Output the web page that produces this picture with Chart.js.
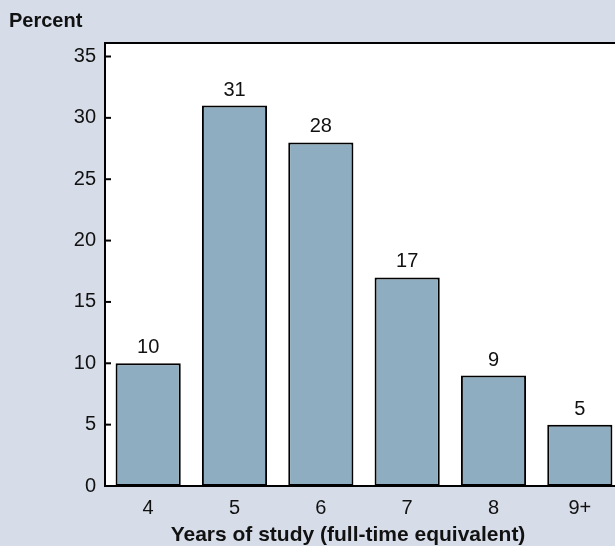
<!DOCTYPE html>
<html>
<head>
<meta charset="utf-8">
<script src="https://cdn.jsdelivr.net/npm/chart.js@4/dist/chart.umd.min.js"></script>
<style>
  html, body { margin: 0; padding: 0; overflow: hidden; background: #d6dde9; }
  #wrap { width: 630px; height: 546px; }
</style>
</head>
<body>
<div id="wrap"><canvas id="chart" width="630" height="546"></canvas></div>
<script>
const years = ["4", "5", "6", "7", "8", "9+"];
const percents = [10, 31, 28, 17, 9, 5];
const yTicks = [0, 5, 10, 15, 20, 25, 30, 35];

const FONT = "'Liberation Sans', Arial, sans-serif";

// white plot area + frame, inward y ticks, labels above bars, titles
const decorPlugin = {
  id: "decor",
  beforeDraw(chart) {
    const { ctx, chartArea: a } = chart;
    ctx.save();
    ctx.fillStyle = "#ffffff";
    ctx.fillRect(a.left, a.top, a.right - a.left, a.bottom - a.top);
    ctx.restore();
  },
  afterDraw(chart) {
    const { ctx, chartArea: a, scales } = chart;
    ctx.save();
    ctx.strokeStyle = "#000000";
    ctx.lineWidth = 2;
    ctx.strokeRect(a.left, a.top, a.right - a.left, a.bottom - a.top);

    // inward tick marks
    yTicks.forEach((v) => {
      const y = scales.y.getPixelForValue(v);
      ctx.beginPath();
      ctx.moveTo(a.left, y);
      ctx.lineTo(a.left + 6, y);
      ctx.stroke();
    });

    // value labels
    ctx.fillStyle = "#111111";
    ctx.font = "20px " + FONT;
    ctx.textAlign = "center";
    ctx.textBaseline = "alphabetic";
    chart.getDatasetMeta(0).data.forEach((bar, i) => {
      ctx.fillText(String(percents[i]), bar.x, bar.y - 10);
    });

    // titles
    ctx.font = "bold 20px " + FONT;
    ctx.textAlign = "left";
    ctx.textBaseline = "middle";
    ctx.fillText("Percent", 9, 21);
    ctx.font = "bold 21px " + FONT;
    ctx.textAlign = "center";
    ctx.fillText("Years of study (full-time equivalent)", 348, 535);
    ctx.restore();
  },
};

new Chart(document.getElementById("chart"), {
  type: "bar",
  data: {
    labels: years,
    datasets: [
      {
        data: percents,
        backgroundColor: "#8fadc0",
        borderColor: "#000000",
        borderWidth: 2,
        borderSkipped: false,
        barPercentage: 0.755,
        categoryPercentage: 1,
      },
    ],
  },
  options: {
    responsive: false,
    animation: false,
    layout: { padding: { left: 0, top: 43, right: 7, bottom: 0 } },
    plugins: { legend: { display: false }, tooltip: { enabled: false } },
    scales: {
      x: {
        grid: { display: false, drawTicks: false },
        border: { display: false },
        ticks: { color: "#111111", font: { family: FONT, size: 20 }, padding: 10 },
        afterFit: (s) => { s.height = 60; },
      },
      y: {
        min: 0,
        max: 36.1,
        afterBuildTicks: (s) => { s.ticks = yTicks.map((v) => ({ value: v })); },
        grid: { display: false, drawTicks: false },
        border: { display: false },
        ticks: { color: "#111111", font: { family: FONT, size: 20 }, padding: 9 },
        afterFit: (s) => { s.width = 105; },
      },
    },
  },
  plugins: [decorPlugin],
});
</script>
</body>
</html>
